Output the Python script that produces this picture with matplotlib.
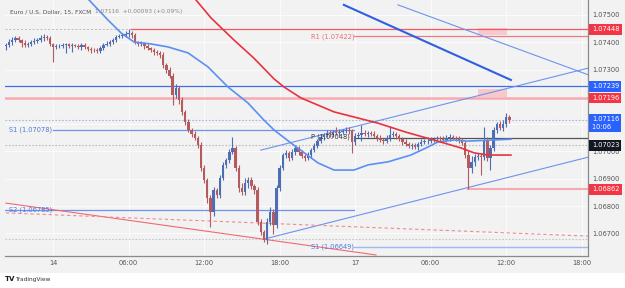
import matplotlib
matplotlib.use('Agg')
import matplotlib.pyplot as plt
from matplotlib.patches import Rectangle
import matplotlib.transforms as mtransforms

# ---------------- data (EUR/USD, 15-minute candles) ----------------
opens = [1.07385,1.07390,1.07401,1.07408,1.07416,1.07408,1.07397,1.07390,1.07394,1.07401,
 1.07405,1.07408,1.07416,1.07419,1.07416,1.07394,1.07383,1.07386,1.07388,1.07390,
 1.07392,1.07386,1.07390,1.07387,1.07383,1.07390,1.07382,1.07375,1.07372,1.07370,
 1.07368,1.07379,1.07390,1.07394,1.07401,1.07408,1.07419,1.07423,1.07427,1.07430,
 1.07434,1.07427,1.07401,1.07394,1.07396,1.07386,1.07379,1.07372,1.07364,1.07361,
 1.07353,1.07317,1.07299,1.07277,1.07207,1.07233,1.07189,1.07145,1.07108,1.07079,
 1.07064,1.07049,1.07024,1.06940,1.06896,1.06830,1.06778,1.06859,1.06841,1.06903,
 1.06951,1.06969,1.06998,1.07013,1.06940,1.06867,1.06852,1.06885,1.06896,1.06874,
 1.06859,1.06742,1.06705,1.06676,1.06742,1.06778,1.06731,1.06867,1.06940,1.06987,
 1.06994,1.06976,1.06998,1.07013,1.06998,1.06983,1.06976,1.06987,1.07005,1.07020,
 1.07038,1.07053,1.07060,1.07068,1.07064,1.07071,1.07068,1.07071,1.07075,1.07079,
 1.07075,1.07035,1.07057,1.07060,1.07068,1.07064,1.07068,1.07064,1.07057,1.07049,
 1.07042,1.07038,1.07049,1.07060,1.07064,1.07057,1.07046,1.07035,1.07027,1.07020,
 1.07024,1.07016,1.07027,1.07035,1.07038,1.07040,1.07042,1.07046,1.07049,1.07046,
 1.07042,1.07049,1.07053,1.07051,1.07046,1.07042,1.07031,1.06987,1.06940,1.06962,
 1.06980,1.06983,1.06980,1.07042,1.06976,1.07013,1.07079,1.07101,1.07086,1.07101,
 1.07126]
closes = [1.07390,1.07401,1.07408,1.07416,1.07408,1.07397,1.07390,1.07394,1.07401,1.07405,
 1.07408,1.07416,1.07419,1.07416,1.07394,1.07383,1.07386,1.07388,1.07390,1.07392,
 1.07386,1.07390,1.07387,1.07383,1.07390,1.07382,1.07375,1.07372,1.07370,1.07368,
 1.07379,1.07390,1.07394,1.07401,1.07408,1.07419,1.07423,1.07427,1.07430,1.07434,
 1.07427,1.07401,1.07394,1.07396,1.07386,1.07379,1.07372,1.07364,1.07361,1.07353,
 1.07317,1.07299,1.07277,1.07207,1.07233,1.07189,1.07145,1.07108,1.07079,1.07064,
 1.07049,1.07024,1.06940,1.06896,1.06830,1.06778,1.06859,1.06841,1.06903,1.06951,
 1.06969,1.06998,1.07013,1.06940,1.06867,1.06852,1.06885,1.06896,1.06874,1.06859,
 1.06742,1.06705,1.06676,1.06742,1.06778,1.06731,1.06867,1.06940,1.06987,1.06994,
 1.06976,1.06998,1.07013,1.06998,1.06983,1.06976,1.06987,1.07005,1.07020,1.07038,
 1.07053,1.07060,1.07068,1.07064,1.07071,1.07068,1.07071,1.07075,1.07079,1.07075,
 1.07035,1.07057,1.07060,1.07068,1.07064,1.07068,1.07064,1.07057,1.07049,1.07042,
 1.07038,1.07049,1.07060,1.07064,1.07057,1.07046,1.07035,1.07027,1.07020,1.07024,
 1.07016,1.07027,1.07035,1.07038,1.07040,1.07042,1.07046,1.07049,1.07046,1.07042,
 1.07049,1.07053,1.07051,1.07046,1.07042,1.07031,1.06987,1.06940,1.06962,1.06980,
 1.06983,1.06980,1.07042,1.06976,1.07013,1.07079,1.07101,1.07086,1.07101,1.07126,
 1.07116]
# wick lengths above / below the candle body, in points (0.00001)
upper_wick = [8,10,12,6,8,5,10,8,6,9, 8,10,12,8,6,5,8,6,8,7, 6,8,5,7,9,6,5,8,6,10,
 8,6,10,8,6,9,7,8,10,14, 6,8,5,9,6,8,5,7,6,8, 10,8,12,10,14,8,10,6,12,8,
 10,8,12,10,8,10,12,8,10,12, 8,10,40,6,12,16,18,10,12,8, 12,10,8,16,20,10,12,10,8,10,
 8,10,12,8,6,8,10,8,10,8, 10,8,12,10,8,20,10,8,12,10, 6,10,12,30,10,8,6,12,8,10,
 8,10,35,10,8,6,8,10,8,6, 8,6,10,8,12,10,8,6,8,10, 12,10,8,6,10,8,6,14,20,12,
 10,12,48,10,12,10,8,12,15,15, 6]
lower_wick = [12,8,10,6,8,15,8,6,9,8, 6,8,10,6,8,55,8,6,10,30, 8,20,6,8,10,6,8,12,6,8,
 6,8,5,6,8,6,5,8,6,10, 10,8,6,8,10,6,8,10,8,10, 12,10,8,35,12,14,10,12,8,10,
 8,10,12,10,20,55,14,10,12,8, 10,12,8,10,14,12,10,18,10,14, 10,12,8,15,10,35,12,10,8,10,
 10,8,10,12,8,10,6,10,8,8, 8,10,8,10,12,8,10,8,6,10, 40,10,8,20,8,10,6,8,10,8,
 10,8,10,8,12,8,10,8,6,10, 8,10,6,8,10,8,6,8,10,8, 8,10,6,8,10,8,12,78,20,14,
 12,66,10,12,44,10,12,8,10,10, 10]

# moving averages (bar position, price)
fast_ma_x = [26.4, 32.4, 36.6, 40.7, 46.1, 51.5, 57.9, 64.2, 70.6, 76.9, 82.0, 85.2, 90.6,
             99.2, 104.3, 110.6, 115.1, 121.4, 128.7, 134.1, 137.3, 142.4, 146.8, 160.5]
fast_ma = [1.07555, 1.07482, 1.07434, 1.07401, 1.07394, 1.07383, 1.07361, 1.07310, 1.07236,
           1.07178, 1.07115, 1.07079, 1.07031, 1.06958, 1.06932, 1.06932, 1.06951, 1.06962,
           1.06987, 1.07016, 1.07035, 1.07042, 1.07038, 1.07045]
slow_ma_x = [60.4, 65.2, 72.5, 78.8, 85.2, 88.4, 93.8, 104.3, 118.2, 127.1, 136.0, 144.6,
             148.8, 153.2, 160.5]
slow_ma = [1.07555, 1.07489, 1.07408, 1.07342, 1.07266, 1.07236, 1.07196, 1.07145, 1.07104,
           1.07071, 1.07042, 1.07013, 1.06995, 1.06987, 1.06987]

# drawn trend lines: (x0, y0, x1, y1)
trend_blue_thick = (107.4, 1.07537, 160.5, 1.07262)
trend_blue_down = (124.6, 1.07537, 185.3, 1.07280)
channel_upper = (81.0, 1.07005, 185.3, 1.07306)
channel_lower = (82.0, 1.06679, 185.3, 1.06980)
trend_red = (0.0, 1.06811, 117.6, 1.06621)
trend_red_dashed = (0.0, 1.06775, 185.3, 1.06690)

# levels
prior_high = 1.07448
R1 = 1.07422
blue_level = 1.07239
pink_level = 1.07196
last_price = 1.07116
S1_prev = 1.07078
P = 1.07049
prev_close = 1.07023
low_level = 1.06862
S2_prev = 1.06785
swing_low = 1.06679
S1 = 1.06649

xtick_pos = [15, 39, 63, 87, 111, 135, 159, 183]
xtick_labels = ['14', '06:00', '12:00', '18:00', '17', '06:00', '12:00', '18:00']
ytick_vals = [1.067, 1.068, 1.069, 1.070, 1.073, 1.074, 1.075]
grid_vals = [1.067, 1.068, 1.069, 1.070, 1.071, 1.072, 1.073, 1.074, 1.075]

# ---------------- figure ----------------
UP, DN = '#4d6db5', '#b55a5f'
BLUE_L = '#6d93ef'
fig = plt.figure(figsize=(6.25, 2.88), dpi=100)
fig.patch.set_facecolor('white')
fig.patches.append(Rectangle((0, 15/288), 1, 273/288, transform=fig.transFigure,
                             facecolor='#f2f2f2', edgecolor='none', zorder=-10))
ax = fig.add_axes([5/625, 32/288, 583/625, 256/288])
ax.set_zorder(1)
ax.set_facecolor('#f2f2f2')
ax.set_xlim(-0.3, 185.0)
ax.set_ylim(1.066172, 1.075549)

for xv in xtick_pos:
    ax.axvline(xv, color='#fbfbfb', lw=0.8, zorder=0.5)
for yv in grid_vals:
    ax.axhline(yv, color='#fbfbfb', lw=0.8, zorder=0.5)

xmax = 185.0
# horizontal levels
ax.plot([-0.3, 39.7], [prior_high]*2, color='#bbbbbb', lw=0.7, ls=(0, (2, 2)), zorder=1)
ax.plot([39.7, xmax], [prior_high]*2, color='#ef5a64', lw=0.9, zorder=1)
ax.plot([110.6, xmax], [R1]*2, color='#f07a82', lw=0.9, zorder=1)
ax.axhline(blue_level, color='#3f6fe6', lw=0.9, zorder=1)
ax.axhline(pink_level, color='#f6a9ae', lw=1.8, zorder=1)
ax.axhline(last_price, color='#a9b8d8', lw=0.8, ls=(0, (1.5, 1.5)), zorder=1)
ax.plot([15, 110.6], [S1_prev]*2, color=BLUE_L, lw=0.9, zorder=1)
ax.plot([110.6, xmax], [P]*2, color='#555555', lw=0.9, zorder=3)
ax.axhline(prev_close, color='#bbbbbb', lw=0.8, ls=(0, (1.5, 1.5)), zorder=1)
ax.plot([147, xmax], [low_level]*2, color='#f6a9ae', lw=1.5, zorder=1)
ax.plot([-0.3, 110.6], [S2_prev]*2, color=BLUE_L, lw=0.9, zorder=1)
ax.axhline(swing_low, color='#c5c5c5', lw=0.8, ls=(0, (1.5, 1.5)), zorder=1)
ax.plot([110.6, xmax], [S1]*2, color='#9db8f5', lw=1.0, zorder=1)

# pink zones
ax.add_patch(Rectangle((150, 1.07427), 9.2, 0.00025, facecolor='#f7c9cc', edgecolor='none', zorder=0.8))
ax.add_patch(Rectangle((150, 1.07200), 9.2, 0.00029, facecolor='#f7c9cc', edgecolor='none', zorder=0.8))

# trend lines
def seg(t, **kw):
    ax.plot([t[0], t[2]], [t[1], t[3]], **kw)

seg(trend_blue_thick, color='#2f5fe3', lw=1.5, zorder=2)
seg(trend_blue_down, color=BLUE_L, lw=0.8, zorder=2)
seg(channel_upper, color=BLUE_L, lw=0.8, zorder=2)
seg(channel_lower, color=BLUE_L, lw=0.8, zorder=2)
seg(trend_red, color='#ef6a72', lw=0.8, zorder=2)
seg(trend_red_dashed, color='#f08a90', lw=0.8, ls=(0, (3, 2.5)), zorder=2)

# candles
idx = list(range(len(closes)))
for i in idx:
    o, c = opens[i], closes[i]
    col = UP if c >= o else DN
    top, bot = max(o, c), min(o, c)
    ax.vlines(i, bot - lower_wick[i]*1e-5, top + upper_wick[i]*1e-5, color=col, lw=0.8, zorder=4)
    ax.bar(i, max(top - bot, 0.000012), bottom=bot, width=0.76, color=col, lw=0, zorder=4)

# moving averages
ax.plot(fast_ma_x, fast_ma, color='#5c8ff2', lw=1.2, zorder=5)
ax.plot(slow_ma_x, slow_ma, color='#e8323f', lw=1.2, zorder=5)

# line labels
fs = 4.8
ax.text(1.0, S1_prev, 'S1 (1.07078)', color='#4f78e0', fontsize=fs, va='center', zorder=6)
ax.text(1.0, S2_prev, 'S2 (1.06785)', color='#4f78e0', fontsize=fs, va='center', zorder=6)
ax.text(97, R1, 'R1 (1.07422)', color='#ef6a72', fontsize=fs, va='center', zorder=6)
ax.text(97, P + 0.00004, 'P (1.07048)', color='#333333', fontsize=fs, va='center', zorder=6)
ax.text(97, S1 + 0.00002, 'S1 (1.06649)', color='#4f78e0', fontsize=fs, va='center', zorder=6)

# axes styling
ax.yaxis.tick_right()
ax.set_yticks(ytick_vals)
ax.set_yticklabels(['%.5f' % v for v in ytick_vals])
ax.set_xticks(xtick_pos)
ax.set_xticklabels(xtick_labels)
ax.tick_params(axis='both', length=0, labelsize=fs, colors='#555555')
ax.tick_params(axis='y', pad=3)
ax.tick_params(axis='x', pad=3)
for s in ['top', 'left']:
    ax.spines[s].set_visible(False)
for s in ['right', 'bottom']:
    ax.spines[s].set_color('#8a8a8a')
    ax.spines[s].set_linewidth(0.9)

# price boxes on the right scale
tr = mtransforms.blended_transform_factory(ax.transAxes, ax.transData)
def box(y, txt, fc, tc='white'):
    ax.text(1.0065, y, txt, transform=tr, fontsize=fs, color=tc, va='center', ha='left',
            clip_on=False, zorder=20, linespacing=1.3,
            bbox=dict(boxstyle='square,pad=0.35', fc=fc, ec='none'))

box(prior_high, '1.07448', '#f23645')
box(blue_level, '1.07239', '#2962ff')
box(pink_level, '1.07196', '#f23645')
box(last_price - 0.00012, '1.07116\n10:06 ', '#2962ff')
box(prev_close, '1.07023', '#131722')
box(low_level, '1.06862', '#f23645')

# header and footer
fig.text(10/625, 1 - 12/288, 'Euro / U.S. Dollar, 15, FXCM', fontsize=4.2, color='#555555', va='center')
fig.text(95/625, 1 - 12/288, '1.07116  +0.00093 (+0.09%)', fontsize=4.2, color='#8a8a8a', va='center')
fig.text(5/625, 1 - 279/288, 'TV', fontsize=5, color='#131722', fontweight='bold', va='center')
fig.text(15/625, 1 - 279/288, 'TradingView', fontsize=4.2, color='#333333', va='center')

fig.savefig('out.png', dpi=100)
